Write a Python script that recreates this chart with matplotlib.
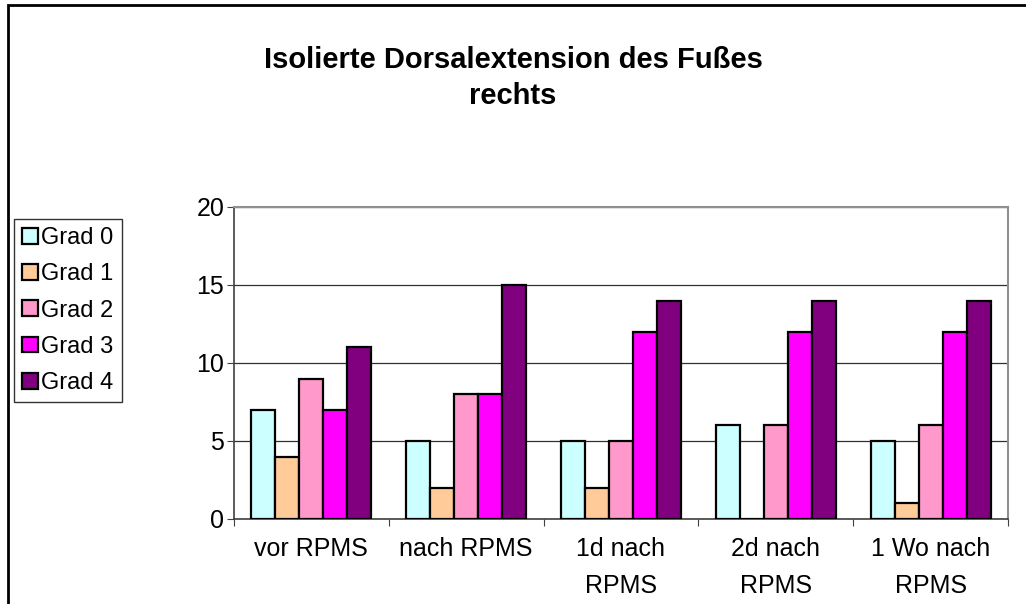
import matplotlib.pyplot as plt
import numpy as np
from matplotlib.patches import Rectangle

plt.rcParams['font.family'] = ['Liberation Sans', 'DejaVu Sans']

# Daten
zeitpunkte = ["vor RPMS", "nach RPMS", "1d nach\nRPMS", "2d nach\nRPMS", "1 Wo nach\nRPMS"]
grade = ["Grad 0", "Grad 1", "Grad 2", "Grad 3", "Grad 4"]
grad0 = [7, 5, 5, 6, 5]
grad1 = [4, 2, 2, 0, 1]
grad2 = [9, 8, 5, 6, 6]
grad3 = [7, 8, 12, 12, 12]
grad4 = [11, 15, 14, 14, 14]
farben = ["#CCFFFF", "#FFCC99", "#FF99CC", "#FF00FF", "#800080"]

werte = [grad0, grad1, grad2, grad3, grad4]

fig = plt.figure(figsize=(10.26, 6.04), dpi=100)
ax = fig.add_axes([234 / 1026, 1 - 519 / 604, 774 / 1026, 312 / 604])

x = np.arange(len(zeitpunkte))
breite = 0.155
for i, (name, w, c) in enumerate(zip(grade, werte, farben)):
    pos = x + (i - 2) * breite
    ax.bar(pos, w, width=breite, color=c, edgecolor="black", linewidth=1.6,
           label=name, zorder=3)

ax.set_xlim(-0.5, len(zeitpunkte) - 0.5)
ax.set_ylim(0, 20)
ax.set_yticks([0, 5, 10, 15, 20])
ax.yaxis.grid(True, color="#303030", linewidth=0.9, zorder=0)

# x-Ticks zwischen den Kategorien, Beschriftung mittig
ax.set_xticks(np.arange(-0.5, len(zeitpunkte)), minor=False)
ax.set_xticklabels([])
ax.set_xticks(x, minor=True)
ax.set_xticklabels(zeitpunkte, minor=True, fontsize=18, linespacing=1.7)
ax.tick_params(axis="x", which="minor", length=0, pad=13)
ax.tick_params(axis="x", which="major", length=5, color="#404040")
ax.tick_params(axis="y", labelsize=18, length=5, color="#404040", pad=2)

for s in ["top", "right"]:
    ax.spines[s].set_color("#909090")
    ax.spines[s].set_linewidth(1.5)
ax.spines["left"].set_color("#404040")
ax.spines["bottom"].set_color("#404040")
ax.spines["left"].set_linewidth(1.2)
ax.spines["bottom"].set_linewidth(1.2)

fig.text(0.5, 1 - 60 / 604, "Isolierte Dorsalextension des Fußes",
         ha="center", va="center", fontsize=21, fontweight="bold")
fig.text(0.5, 1 - 96 / 604, "rechts",
         ha="center", va="center", fontsize=21, fontweight="bold")

leg = fig.legend(loc="upper left", bbox_to_anchor=(14 / 1026, 1 - 219 / 604),
                 fontsize=17, frameon=True, fancybox=False, handlelength=0.65,
                 handleheight=0.65, handletextpad=0.15, labelspacing=0.6,
                 borderpad=0.35, borderaxespad=0)
leg.get_frame().set_edgecolor("black")
leg.get_frame().set_linewidth(1.0)

# Rahmen um das Diagramm
fig.patches.append(Rectangle((8 / 1026, -0.1), 1.2, 1.1 - 5 / 604,
                             transform=fig.transFigure, fill=False,
                             edgecolor="black", linewidth=2))

fig.savefig("out.png", dpi=100)
